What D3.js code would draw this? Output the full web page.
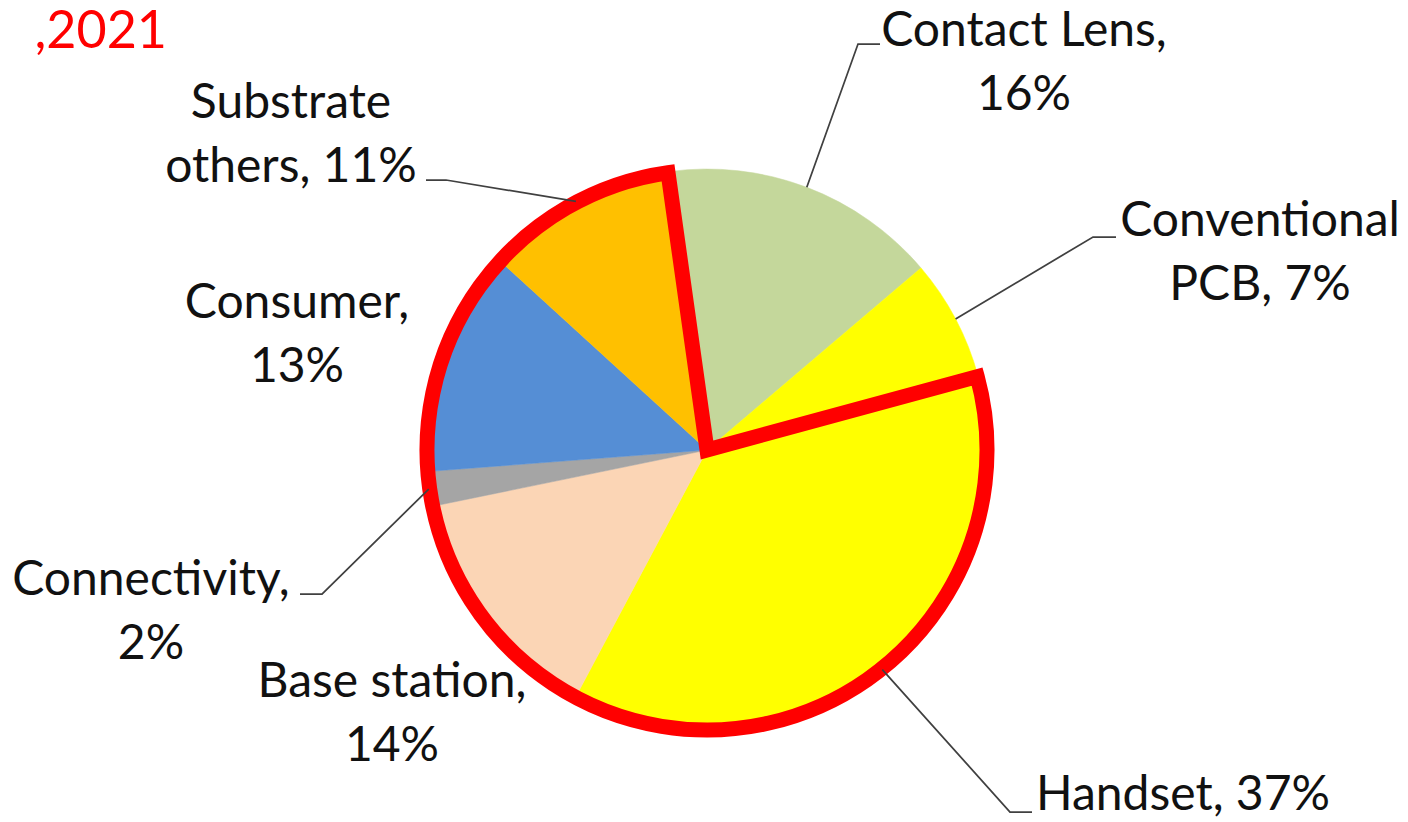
<!DOCTYPE html>
<html>
<head>
<meta charset="utf-8">
<script src="https://cdn.jsdelivr.net/npm/d3@7"></script>
<style>
  html, body { margin: 0; padding: 0; background: #fff; overflow: hidden; }
  svg { display: block; }
  text { font-family: Lato, "Noto Sans", sans-serif; }
</style>
</head>
<body>
<div id="main_plot"></div>
<script>
// chart data
var categories = ["Contact Lens", "Conventional PCB", "Handset", "Base station", "Connectivity", "Consumer", "Substrate others"];
var shares = [16, 7, 37, 14, 2, 13, 11];
var colors = ["#C4D79B", "#FFFF00", "#FFFF00", "#FBD5B5", "#A5A5A5", "#558ED5", "#FFC000"];
var labelText = [
  ["Contact Lens,", "16%"],
  ["Conventional", "PCB, 7%"],
  ["Handset, 37%"],
  ["Base station,", "14%"],
  ["Connectivity,", "2%"],
  ["Consumer,", "13%"],
  ["Substrate", "others, 11%"]
];
// the slices inside the red outline
var highlighted = ["Handset", "Base station", "Connectivity", "Consumer", "Substrate others"];

// set the dimensions
var width = 1408,
    height = 822,
    cx = 707, cy = 450,
    radius = 281;

// label placement: text centre x, first baseline y, leader elbow and end (null = no leader)
var labelLayout = {
  "Contact Lens":     {x: 1024, y: 46,  elbow: [858, 44],  end: [880, 44]},
  "Conventional PCB": {x: 1260, y: 236, elbow: [1093, 237], end: [1116, 237]},
  "Handset":          {x: 1183, y: 810, elbow: [1010, 812], end: [1032, 812]},
  "Base station":     {x: 392,  y: 697, elbow: null},
  "Connectivity":     {x: 151,  y: 595, elbow: [322, 594],  end: [300, 594]},
  "Consumer":         {x: 297,  y: 318, elbow: null},
  "Substrate others": {x: 291,  y: 118, elbow: [446, 180],  end: [426, 180]}
};
var lineHeight = 64;

var svg = d3.select("div#main_plot")
  .append("svg")
    .attr("width", width)
    .attr("height", height);

// title fragment at the top left
svg.append("text")
    .attr("x", 167)
    .attr("y", 48)
    .attr("text-anchor", "end")
    .attr("fill", "#FF0000")
    .attr("font-size", 52)
    .text(",2021");

var data = categories.map(function(c, i) {
  return {name: c, value: shares[i], color: colors[i], lines: labelText[i]};
});

var startAngle = -8 * Math.PI / 180;
var pie = d3.pie()
  .sort(null)
  .value(function(d) { return d.value; })
  .startAngle(startAngle)
  .endAngle(startAngle + 2 * Math.PI);
var arcs = pie(data);

var arc = d3.arc().innerRadius(0).outerRadius(radius);

var g = svg.append("g")
    .attr("transform", "translate(" + cx + "," + cy + ")");

// slices
g.selectAll("path.slice")
  .data(arcs)
  .enter()
  .append("path")
    .attr("class", "slice")
    .attr("d", arc)
    .attr("fill", function(d) { return d.data.color; })
    .attr("stroke", function(d) { return d.data.color; })
    .attr("stroke-width", 0.5);

// leader lines
arcs.forEach(function(d) {
  var lay = labelLayout[d.data.name];
  if (!lay.elbow) return;
  var mid = (d.startAngle + d.endAngle) / 2;
  var p0 = [cx + radius * Math.sin(mid), cy - radius * Math.cos(mid)];
  svg.append("polyline")
      .attr("points", [p0, lay.elbow, lay.end].map(function(p) { return p.join(","); }).join(" "))
      .attr("fill", "none")
      .attr("stroke", "#404040")
      .attr("stroke-width", 1.75);
});

// red outline round the highlighted group
var hl = arcs.filter(function(d) { return highlighted.indexOf(d.data.name) >= 0; });
var outline = d3.arc()
  .innerRadius(0)
  .outerRadius(radius - 1)
  .startAngle(d3.min(hl, function(d) { return d.startAngle; }))
  .endAngle(d3.max(hl, function(d) { return d.endAngle; }));
g.append("path")
    .attr("d", outline())
    .attr("fill", "none")
    .attr("stroke", "#FF0000")
    .attr("stroke-width", 15)
    .attr("stroke-linejoin", "miter");

// data labels
arcs.forEach(function(d) {
  var lay = labelLayout[d.data.name];
  var t = svg.append("text")
      .attr("text-anchor", "middle")
      .attr("fill", "#111")
      .attr("font-size", 48);
  d.data.lines.forEach(function(line, i) {
    t.append("tspan")
        .attr("x", lay.x)
        .attr("y", lay.y + i * lineHeight)
        .text(line);
  });
});
</script>
</body>
</html>
